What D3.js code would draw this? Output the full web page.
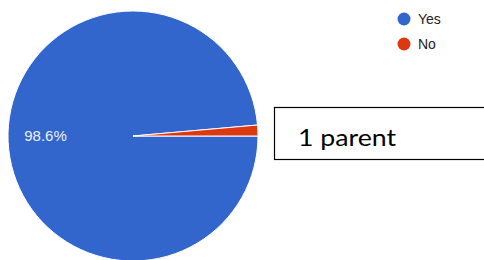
<!DOCTYPE html>
<html>
<head>
<meta charset="utf-8">
<script src="https://cdn.jsdelivr.net/npm/d3@7"></script>
<style>
  body { margin: 0; background: #fff; }
  svg { display: block; }
</style>
</head>
<body>
<svg id="chart" width="484" height="260"></svg>
<script>
const labels = ['Yes', 'No'];
const values = [98.6, 1.4];
const colors = ['#3366cc', '#dc3912'];
const note = '1 parent';

const svg = d3.select('#chart');
const cx = 133, cy = 136, radius = 125;

const color = d3.scaleOrdinal(labels, colors);
const pie = d3.pie().sort(null).value(d => d.value)
  .startAngle(Math.PI / 2).endAngle(Math.PI / 2 + 2 * Math.PI);
const arc = d3.arc().innerRadius(0).outerRadius(radius);

const data = labels.map((l, i) => ({label: l, value: values[i]}));
const arcs = pie(data);

const g = svg.append('g').attr('transform', `translate(${cx},${cy})`);
g.selectAll('path')
  .data(arcs)
  .enter()
  .append('path')
  .attr('d', arc)
  .attr('fill', d => color(d.data.label))
  .attr('stroke', '#fff')
  .attr('stroke-width', 1);

// percentage label, only on the big slice
const total = d3.sum(values);
g.selectAll('text.pct')
  .data(arcs.filter(d => d.data.value / total > 0.05))
  .enter()
  .append('text')
  .attr('class', 'pct')
  .attr('x', -radius * 0.87)
  .attr('y', 5)
  .attr('fill', '#eef0fa')
  .style('font-family', 'Liberation Sans, Arial, sans-serif')
  .style('font-size', '15px')
  .text(d => (d.data.value / total * 100).toFixed(1) + '%');

// legend
const legend = svg.append('g').attr('transform', 'translate(404,19)');
const items = legend.selectAll('g')
  .data(labels)
  .enter()
  .append('g')
  .attr('transform', (d, i) => `translate(0,${i * 25})`);
items.append('circle').attr('r', 6.5).attr('fill', d => color(d));
items.append('text')
  .attr('x', 14)
  .attr('y', 5)
  .attr('fill', '#222')
  .style('font-family', 'Liberation Sans, Arial, sans-serif')
  .style('font-size', '14px')
  .text(d => d);

// annotation box
svg.append('rect')
  .attr('x', 274.5).attr('y', 107.5)
  .attr('width', 230).attr('height', 52)
  .attr('fill', '#fff')
  .attr('stroke', '#000')
  .attr('stroke-width', 1.2);
svg.append('text')
  .attr('x', 298).attr('y', 146)
  .attr('fill', '#000')
  .attr('textLength', 98)
  .attr('lengthAdjust', 'spacingAndGlyphs')
  .style('font-family', 'Lato, Carlito, Calibri, sans-serif')
  .style('font-size', '24px')
  .text(note);
</script>
</body>
</html>
